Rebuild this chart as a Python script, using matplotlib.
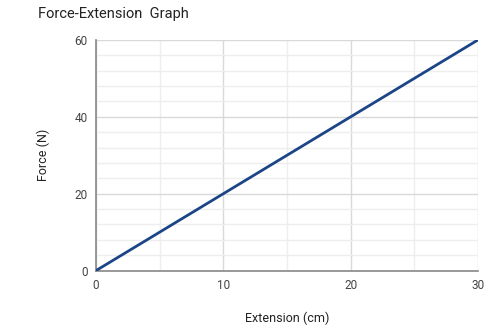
import matplotlib.pyplot as plt

extension = [0, 5, 10, 15, 20, 25, 30]
force = [0, 10, 20, 30, 40, 50, 60]
x_ticks = [0, 10, 20, 30]
y_ticks = [0, 20, 40, 60]
x_minor = [5, 15, 25]
y_minor = [4, 8, 12, 16, 24, 28, 32, 36, 44, 48, 52, 56]

plt.rcParams['font.family'] = ['Roboto', 'DejaVu Sans']

fig = plt.figure(figsize=(5, 3.3), dpi=100)
ax = fig.add_axes([0.192, 0.18, 0.764, 0.699])

ax.plot(extension, force, color='#1c4587', lw=2, solid_capstyle='round', zorder=3)

ax.set_xlim(0, 30)
ax.set_ylim(0, 60)
ax.set_xticks(x_ticks)
ax.set_yticks(y_ticks)
ax.set_xticks(x_minor, minor=True)
ax.set_yticks(y_minor, minor=True)
ax.grid(True, which='major', color='#d9d9d9', lw=1)
ax.grid(True, which='minor', color='#eeeeee', lw=1)
ax.tick_params(which='both', length=0, labelsize=8.5, colors='#444444', pad=6)

for side in ['top', 'right']:
    ax.spines[side].set_visible(False)
for side in ['left', 'bottom']:
    ax.spines[side].set_color('#888888')
    ax.spines[side].set_linewidth(1.2)

ax.set_xlabel('Extension (cm)', fontsize=9, color='#222222', labelpad=14)
ax.set_ylabel('Force (N)', fontsize=9, color='#222222', labelpad=18)
fig.text(0.076, 0.957, 'Force-Extension  Graph', fontsize=10.5, color='#222222', va='center')

fig.savefig('out.png', dpi=100, facecolor='white')
